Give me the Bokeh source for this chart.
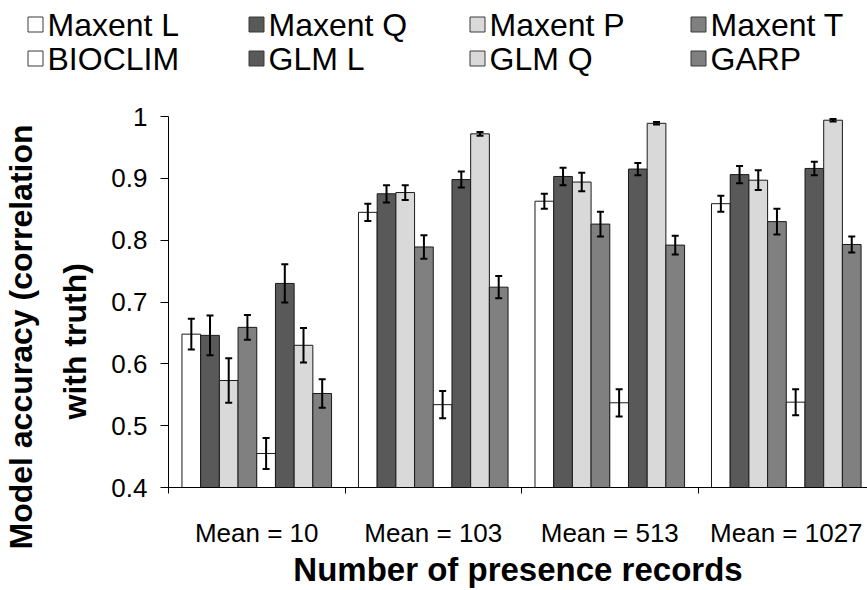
import numpy as np
from bokeh.plotting import figure
from bokeh.layouts import column
from bokeh.models import (ColumnDataSource, Whisker, Range1d, FixedTicker, TeeHead, Title)
from bokeh.core.properties import value
from bokeh.embed import file_html
from bokeh.resources import INLINE

# ---------------- data ----------------
groups = ["Mean = 10", "Mean = 103", "Mean = 513", "Mean = 1027"]
models = ["Maxent L", "Maxent Q", "Maxent P", "Maxent T",
          "BIOCLIM", "GLM L", "GLM Q", "GARP"]

maxent_l = [0.648, 0.845, 0.863, 0.859]
maxent_q = [0.646, 0.875, 0.903, 0.906]
maxent_p = [0.573, 0.877, 0.894, 0.897]
maxent_t = [0.659, 0.789, 0.826, 0.830]
bioclim = [0.455, 0.534, 0.537, 0.538]
glm_l = [0.730, 0.898, 0.915, 0.916]
glm_q = [0.630, 0.972, 0.989, 0.994]
garp = [0.552, 0.724, 0.792, 0.793]

maxent_l_err = [0.025, 0.014, 0.012, 0.013]
maxent_q_err = [0.032, 0.014, 0.014, 0.014]
maxent_p_err = [0.036, 0.012, 0.015, 0.016]
maxent_t_err = [0.020, 0.019, 0.020, 0.021]
bioclim_err = [0.025, 0.022, 0.022, 0.021]
glm_l_err = [0.031, 0.013, 0.010, 0.011]
glm_q_err = [0.028, 0.003, 0.002, 0.002]
garp_err = [0.023, 0.018, 0.015, 0.013]

values = [maxent_l, maxent_q, maxent_p, maxent_t, bioclim, glm_l, glm_q, garp]
errors = [maxent_l_err, maxent_q_err, maxent_p_err, maxent_t_err,
          bioclim_err, glm_l_err, glm_q_err, garp_err]

y_ticks = [0.4, 0.5, 0.6, 0.7, 0.8, 0.9, 1.0]
y_title_lines = ["Model accuracy (correlation", "with truth)"]
x_title = "Number of presence records"

# ---------------- styles ----------------
WHITE, DARK, LIGHT, MID = "#FFFFFF", "#595959", "#D9D9D9", "#808080"
colors = [WHITE, DARK, LIGHT, MID, WHITE, DARK, LIGHT, MID]
FONT = "Liberation Sans"
LEG_H = 80

# ---------------- legend strip (pixel coordinates) ----------------
lg = figure(width=867, height=LEG_H, output_backend="svg", toolbar_location=None,
            x_range=Range1d(0, 867), y_range=Range1d(LEG_H, 0),
            x_axis_type=None, y_axis_type=None, min_border=0)
lg.frame_align = False
lg.outline_line_color = None
lg.xgrid.visible = False
lg.ygrid.visible = False
ncol = 4
idx = np.arange(len(models))
col_i = idx % ncol
row_i = idx // ncol
leg_src = ColumnDataSource(dict(
    sx=27 + 8 + 221 * col_i,
    tx=47 + 221 * col_i,
    y=24 + 34 * row_i,
    label=models,
    color=colors,
))
lg.scatter(x="sx", y="y", source=leg_src, marker="square", size=15,
           fill_color="color", line_color="#3a3a3a", line_width=1)
lg.text(x="tx", y="y", text="label", source=leg_src, text_font=value(FONT),
        text_font_size="32px", text_baseline="middle", text_align="left",
        text_color="black")

# ---------------- main chart ----------------
p = figure(width=867, height=590 - LEG_H, output_backend="svg", toolbar_location=None,
           x_range=Range1d(0, 3.96), y_range=Range1d(0.4, 1.0),
           min_border_left=166, min_border_right=0, min_border_top=116 - LEG_H,
           min_border_bottom=102)
p.frame_align = False
p.outline_line_color = None
p.xgrid.visible = False
p.ygrid.visible = False

margin = 0.0763
bar_w = (1 - 2 * margin) / 8
group_idx = np.arange(len(groups))

for j, (name, vals, errs, col) in enumerate(zip(models, values, errors, colors)):
    xs = group_idx + margin + bar_w * (j + 0.5)
    v = np.array(vals)
    e = np.array(errs)
    src = ColumnDataSource(dict(x=xs, top=v, upper=v + e, lower=v - e))
    p.vbar(x="x", top="top", bottom=0.4, width=bar_w, source=src,
           fill_color=col, line_color="#1a1a1a", line_width=1)
    w = Whisker(source=src, base="x", upper="upper", lower="lower",
                level="overlay", line_color="black", line_width=2,
                upper_head=TeeHead(size=7, line_width=2, line_color="black"),
                lower_head=TeeHead(size=7, line_width=2, line_color="black"))
    p.add_layout(w)

# y axis
ya = p.yaxis[0]
ya.ticker = FixedTicker(ticks=y_ticks)
ya.major_label_overrides = {1.0: "1"}
ya.major_tick_out = 8
ya.major_tick_in = 0
ya.minor_tick_out = 0
ya.minor_tick_in = 0
ya.major_label_standoff = 13
ya.major_label_text_font = FONT
ya.major_label_text_font_size = "26px"
ya.major_label_text_color = "black"
ya.axis_line_color = "black"
ya.major_tick_line_color = "black"

t2 = Title(text=y_title_lines[1], align="left", offset=68, standoff=32,
           text_font=FONT, text_font_style="bold", text_font_size="32px",
           text_color="black")
t1 = Title(text=y_title_lines[0], align="left", offset=-62, standoff=0,
           text_font=FONT, text_font_style="bold", text_font_size="32px",
           text_color="black")
p.add_layout(t2, "left")
p.add_layout(t1, "left")

# x axis
xa = p.xaxis[0]
xa.ticker = FixedTicker(ticks=[i + 0.5 for i in range(len(groups))],
                        minor_ticks=[float(i) for i in range(len(groups))])
xa.major_label_overrides = {i + 0.5: g for i, g in enumerate(groups)}
xa.major_tick_out = 0
xa.major_tick_in = 0
xa.minor_tick_out = 6
xa.minor_tick_in = 0
xa.minor_tick_line_color = "black"
xa.major_label_standoff = 24
xa.major_label_text_font = FONT
xa.major_label_text_font_size = "26px"
xa.major_label_text_color = "black"
xa.axis_line_color = "black"
xa.axis_label = x_title
xa.axis_label_text_font = FONT
xa.axis_label_text_font_style = "bold"
xa.axis_label_text_font_size = "33px"
xa.axis_label_text_color = "black"
xa.axis_label_standoff = 0

layout = column(lg, p, spacing=0)
open("out.html", "w").write(file_html(layout, INLINE))
